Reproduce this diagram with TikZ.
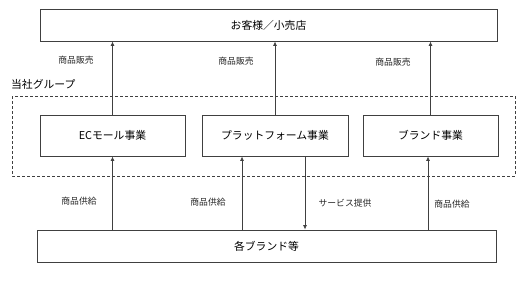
\documentclass[tikz,border=0pt]{standalone}
\usepackage{fontspec}
\setmainfont{Noto Sans CJK JP}
\usetikzlibrary{arrows.meta,calc}

\begin{document}
\begin{tikzpicture}[x=1pt,y=-1pt,font=\fontsize{10.8}{12}\selectfont,
  box/.style={draw=black!75,line width=.8pt,fill=white,inner sep=2pt},
  arr/.style={-{Latex[length=4.5pt,width=4pt]},line width=.8pt,draw=black!75},
  lbl/.style={font=\fontsize{8.8}{10}\selectfont,text=black!85},
  grp/.style={draw=black!75,line width=.7pt,dash pattern=on 3pt off 2pt}]
\useasboundingbox (0,0) rectangle (530,281);
% group frame
\draw[grp] (12,96) rectangle (515,176);
\node[anchor=west,inner sep=0pt] (grptitle) at (11,84) {当社グループ};
% boxes
\node[box,minimum width=457pt,minimum height=32pt] (cust) at (268.5,25) {お客様／小売店};
\node[box,minimum width=145pt,minimum height=41pt] (ec) at (112.5,135.5) {ECモール事業};
\node[box,minimum width=146pt,minimum height=41pt] (pf) at (275,135.5) {プラットフォーム事業};
\node[box,minimum width=135pt,minimum height=41pt] (br) at (430.5,135.5) {ブランド事業};
\node[box,minimum width=459pt,minimum height=32pt] (brands) at (266.5,246) {各ブランド等};
% sales
\draw[arr] (ec.north)--(ec.north |- cust.south);
\draw[arr] (pf.north)--(pf.north |- cust.south);
\draw[arr] (br.north)--(br.north |- cust.south);
\node[lbl] (s1) at (76,60) {商品販売};
\node[lbl] (s2) at (236,61) {商品販売};
\node[lbl] (s3) at (393,62) {商品販売};
% supply
\draw[arr] (ec.south |- brands.north)--(ec.south);
\draw[arr] ($(pf.south |- brands.north)+(-33,0)$)--($(pf.south)+(-33,0)$);
\draw[arr] ($(pf.south)+(30,0)$)--($(pf.south |- brands.north)+(30,0)$);
\draw[arr] ($(br.south |- brands.north)+(-2.5,0)$)--($(br.south)+(-2.5,0)$);
\node[lbl] (p1) at (79,201) {商品供給};
\node[lbl] (p2) at (208,202) {商品供給};
\node[lbl] (svc) at (345,203) {サービス提供};
\node[lbl] (p3) at (452,204) {商品供給};
\end{tikzpicture}
\end{document}
